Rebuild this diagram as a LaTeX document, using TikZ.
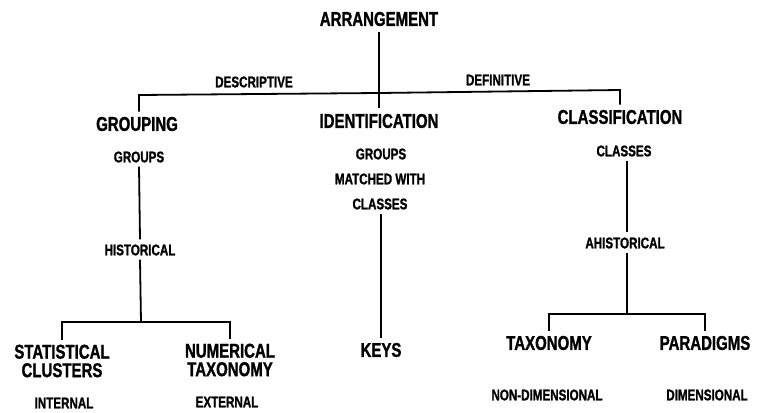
\documentclass[tikz,border=0pt]{standalone}
\usepackage{fontspec}
\newfontfamily\labfont{Liberation Sans}[FakeStretch=0.75,FakeBold=1.2]
\begin{document}
\begin{tikzpicture}[x=1pt,y=-1pt,
  big/.style={inner sep=0pt,font=\labfont\bfseries\fontsize{20}{18.5}\selectfont,align=center},
  small/.style={inner sep=0pt,font=\labfont\bfseries\fontsize{15.5}{18}\selectfont},
  link/.style={line width=1.8pt}]
\useasboundingbox (0,0) rectangle (757,412);

% top level
\node[big] (arr) at (379,19) {ARRANGEMENT};
\node[small] (desc) at (254,82) {DESCRIPTIVE};
\node[small] (defi) at (498,80) {DEFINITIVE};
\node[big] (grp) at (137,124) {GROUPING};
\node[big] (idn) at (379,121) {IDENTIFICATION};
\node[big] (cls) at (620,117) {CLASSIFICATION};
\coordinate (barL) at (139,95);
\coordinate (barM) at (379,93);
\coordinate (barR) at (620,90);
\draw[link] (arr.south) ++(0,6) -- ([yshift=6pt]idn.north);
\draw[link] ([yshift=5pt]grp.north -| barL) -- (barL) -- (barM) -- (barR) -- ([yshift=5pt]cls.north -| barR);

% grouping column
\node[small] (groups) at (139,157) {GROUPS};
\node[small] (hist) at (140,250) {HISTORICAL};
\coordinate (gbar) at (141,322);
\node[big] (stat) at (62,361) {STATISTICAL\\CLUSTERS};
\node[big] (num) at (230,360) {NUMERICAL\\TAXONOMY};
\node[small] (int) at (64,403) {INTERNAL};
\node[small] (ext) at (227,402) {EXTERNAL};
\draw[link] (groups.south) ++(0,4) -- ([yshift=5pt]hist.north);
\draw[link] (hist.south) ++(0,4) -- (gbar);
\draw[link] ([yshift=4pt]stat.north) -- (stat.north |- gbar) -- (num.north |- gbar) -- ([yshift=4pt]num.north);

% identification column
\node[small] (igr) at (381,154) {GROUPS};
\node[small] (imw) at (380,179) {MATCHED WITH};
\node[small] (icl) at (380,204) {CLASSES};
\node[big] (keys) at (381,350) {KEYS};
\draw[link] ([xshift=1pt]icl.south) ++(0,4) -- ([yshift=5pt]keys.north);

% classification column
\node[small] (ccl) at (624,151) {CLASSES};
\node[small] (ahist) at (625,243) {AHISTORICAL};
\coordinate (cbar) at (627,314);
\node[big] (tax) at (549,343) {TAXONOMY};
\node[big] (par) at (705,343) {PARADIGMS};
\node[small] (nond) at (547,395) {NON-DIMENSIONAL};
\node[small] (dim) at (707,395) {DIMENSIONAL};
\draw[link] ([xshift=3pt]ccl.south) ++(0,4) -- ([yshift=5pt,xshift=2pt]ahist.north);
\draw[link] ([xshift=2pt]ahist.south) ++(0,4) -- (cbar);
\draw[link] ([yshift=5pt]tax.north) -- (tax.north |- cbar) -- (par.north |- cbar) -- ([yshift=5pt]par.north);
\end{tikzpicture}
\end{document}
